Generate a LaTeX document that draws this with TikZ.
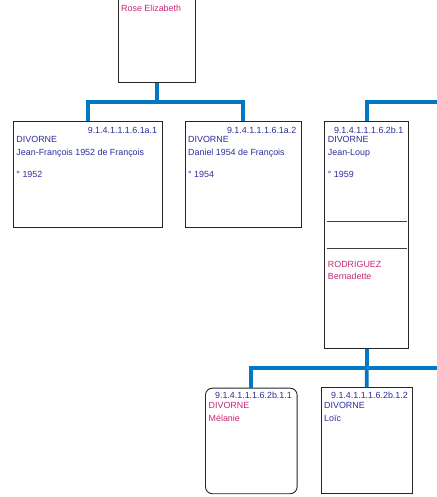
\documentclass[tikz,border=0pt]{standalone}
\usepackage{fontspec}
\setmainfont{Liberation Sans}
\definecolor{navy}{RGB}{45,45,155}
\definecolor{mag}{RGB}{200,40,120}
\definecolor{connblue}{RGB}{0,120,195}
\begin{document}
\begin{tikzpicture}[x=1bp,y=-1bp,
  box/.style={draw=black!85,line width=0.9bp,fill=white,inner sep=0pt,anchor=north west},
  conn/.style={draw=connblue,line width=3.8bp},
  sep/.style={draw=black!75,line width=0.9bp},
  txt/.style={inner sep=0pt,anchor=base west,font=\fontsize{8.9bp}{10bp}\selectfont},
  num/.style={inner sep=0pt,anchor=base east,text=navy,font=\fontsize{8.9bp}{10bp}\selectfont},
  blu/.style={txt,text=navy},
  pnk/.style={txt,text=mag}]
\useasboundingbox (0,0) rectangle (437,497);
\clip (0,0) rectangle (437,497);
% boxes
\node[box,minimum width=76.7bp,minimum height=102bp] (t) at (118.3,-20) {};
\node[box,minimum width=148.4bp,minimum height=105.7bp] (c1) at (13.3,121) {};
\node[box,minimum width=115.7bp,minimum height=105.7bp] (c2) at (185,121) {};
\node[box,minimum width=84bp,minimum height=226.7bp] (r) at (324.3,121) {};
\node[box,rounded corners=7bp,minimum width=91.7bp,minimum height=105.6bp] (g1) at (205,387.7) {};
\node[box,minimum width=91.6bp,minimum height=105.4bp] (g2) at (320.5,387.3) {};
% junction coordinates
\coordinate (e1) at (445,101.7);
\coordinate (e2) at (445,367.7);
\coordinate (j1) at (t.south |- e1);
\coordinate (j2) at (r.south |- e2);
% connectors
\draw[conn] (t.south) -- (j1);
\draw[conn] (c1.north) |- (j1) -| (c2.north);
\draw[conn] (r.north) |- (e1);
\draw[conn] (r.south) -- (j2);
\draw[conn] (g1.north) |- (e2);
\draw[conn] (j2) -- (g2.north);
% separators in r
\coordinate (s1a) at (326.7,221.7);
\coordinate (s1b) at (406.7,221.7);
\coordinate (s2a) at (326.7,248.3);
\coordinate (s2b) at (406.7,248.3);
\draw[sep] (s1a) -- (s1b);
\draw[sep] (s2a) -- (s2b);
% texts: top
\node[pnk] (t1) at (121,12) {Rose Elizabeth};
% c1
\node[num] (c1n) at (157.3,133.2) {9.1.4.1.1.1.6.1a.1};
\node[blu] (c1a) at (16.3,142.5) {DIVORNE};
\node[blu] (c1b) at (16.3,155.3) {Jean-François 1952 de François};
\node[blu] (c1c) at (16.3,177.5) {° 1952};
% c2
\node[num] (c2n) at (296.5,133.2) {9.1.4.1.1.1.6.1a.2};
\node[blu] (c2a) at (188,142.5) {DIVORNE};
\node[blu] (c2b) at (188,155.3) {Daniel 1954 de François};
\node[blu] (c2c) at (188,177.5) {° 1954};
% r
\node[num] (rn) at (403.5,133.2) {9.1.4.1.1.1.6.2b.1};
\node[blu] (ra) at (327.7,142.5) {DIVORNE};
\node[blu] (rb) at (327.7,155.3) {Jean-Loup};
\node[blu] (rc) at (327.7,177.5) {° 1959};
\node[pnk] (rd) at (327.7,267.2) {RODRIGUEZ};
\node[pnk] (re) at (327.7,279.3) {Bernadette};
% g1
\node[num] (g1n) at (292,398.3) {9.1.4.1.1.1.6.2b.1.1};
\node[pnk] (g1a) at (208.5,408.8) {DIVORNE};
\node[pnk] (g1b) at (208.5,421.3) {Mélanie};
% g2
\node[num] (g2n) at (408,398.3) {9.1.4.1.1.1.6.2b.1.2};
\node[blu] (g2a) at (324,408.8) {DIVORNE};
\node[blu] (g2b) at (324,421.3) {Loïc};
\end{tikzpicture}
\end{document}
